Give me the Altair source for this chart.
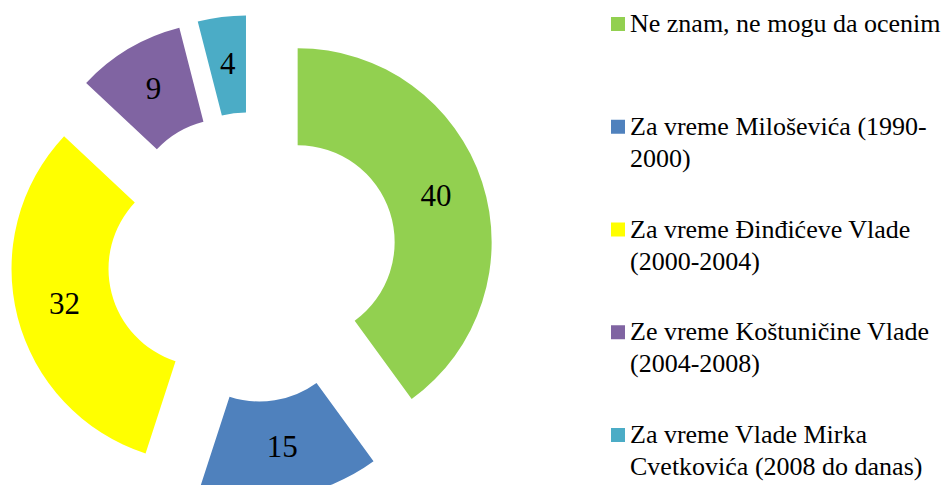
import altair as alt
import pandas as pd

categories = [
    "Ne znam, ne mogu da ocenim",
    "Za vreme Miloševića (1990-2000)",
    "Za vreme Đinđićeve Vlade (2000-2004)",
    "Ze vreme Koštuničine Vlade (2004-2008)",
    "Za vreme Vlade Mirka Cvetkovića (2008 do danas)",
]
legend_labels = [
    "Ne znam, ne mogu da ocenim",
    "Za vreme Miloševića (1990-\n2000)",
    "Za vreme Đinđićeve Vlade\n(2000-2004)",
    "Ze vreme Koštuničine Vlade\n(2004-2008)",
    "Za vreme Vlade Mirka\nCvetkovića (2008 do danas)",
]
values = [40, 15, 32, 9, 4]
colors = ["#92D050", "#4F81BD", "#FFFF00", "#8064A2", "#4BACC6"]

df = pd.DataFrame({
    "cat": categories,
    "legend": legend_labels,
    "value": values,
    "idx": list(range(len(values))),
})

# layout constants (pixels)
CX, CY = 244, 249      # donut centre
EXPLODE = 48           # radial offset of every slice
R_OUT, R_IN = 194, 97
R_LABEL = (R_OUT + R_IN) / 2
FONT = "Times New Roman, Liberation Serif"

base = alt.Chart(df).transform_joinaggregate(
    total="sum(value)"
).transform_window(
    c1="sum(value)", sort=[alt.SortField("idx")], frame=[None, 0]
).transform_calculate(
    c0="datum.c1 - datum.value",
    cm="datum.c1 - datum.value / 2",
).transform_calculate(
    mid="datum.cm / datum.total * 2 * PI",
).transform_calculate(
    ox=f"{CX} + {EXPLODE} * sin(datum.mid)",
    oy=f"{CY} - {EXPLODE} * cos(datum.mid)",
)

theta_scale = alt.Scale(domain=[0, 100])

arcs = base.mark_arc(radius=R_OUT, radius2=R_IN, stroke=None).encode(
    theta=alt.Theta("c0:Q", scale=theta_scale, stack=False),
    theta2="c1:Q",
    x=alt.X("ox:Q", scale=None, axis=None),
    y=alt.Y("oy:Q", scale=None, axis=None),
    color=alt.Color("cat:N", scale=alt.Scale(domain=categories, range=colors), legend=None),
)

labels = base.mark_text(
    font=FONT, fontSize=31, color="black", align="center", baseline="middle"
).encode(
    theta=alt.Theta("cm:Q", scale=theta_scale, stack=False),
    radius=alt.value(R_LABEL),
    x=alt.X("ox:Q", scale=None, axis=None),
    y=alt.Y("oy:Q", scale=None, axis=None),
    text=alt.Text("value:Q"),
)

leg_y = alt.Y("cat:N", scale=alt.Scale(type="point", domain=categories, range=[16, 427], padding=0), axis=None)

leg_sq = alt.Chart(df).mark_square(size=196, filled=True, opacity=1).encode(
    x=alt.value(610),
    y=leg_y,
    color=alt.Color("cat:N", scale=alt.Scale(domain=categories, range=colors), legend=None),
)

leg_txt = alt.Chart(df).mark_text(
    font=FONT, fontSize=26, color="black", align="left", baseline="alphabetic",
    dy=8, lineBreak="\n", lineHeight=32,
).encode(
    x=alt.value(622),
    y=leg_y,
    text="legend:N",
)

chart = alt.layer(arcs, labels, leg_sq, leg_txt).resolve_scale(
    x="independent", y="independent"
).properties(
    width=934, height=477,
    autosize=alt.AutoSizeParams(type="none"),
    padding=0,
).configure_view(strokeWidth=0)

chart.save("out.html", embed_options={"renderer": "svg", "actions": False})
